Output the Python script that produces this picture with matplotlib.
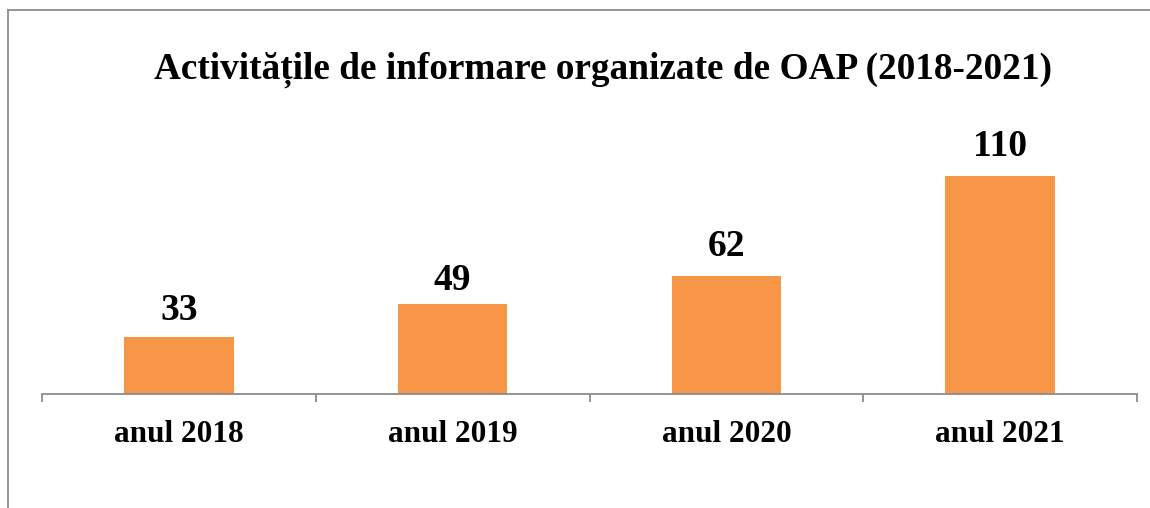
import matplotlib
matplotlib.use("Agg")
import matplotlib.pyplot as plt
from matplotlib.lines import Line2D
from matplotlib.ticker import FixedLocator

categories = ["anul 2018", "anul 2019", "anul 2020", "anul 2021"]
values = [33, 49, 62, 110]
title = "Activitățile de informare organizate de OAP (2018-2021)"

W, H = 1150, 508
fig = plt.figure(figsize=(W / 100, H / 100), dpi=100)
serif = ["Liberation Serif", "DejaVu Serif"]

ax = fig.add_axes([42 / W, (H - 394) / H, 1095 / W, 234 / H])
x = list(range(len(categories)))
bars = ax.bar(x, values, width=0.4, color="#F79646", zorder=2)
ax.set_xlim(-0.5, len(categories) - 0.5)
ax.set_ylim(6, 117.4)

for s in ["top", "right", "left"]:
    ax.spines[s].set_visible(False)
ax.spines["bottom"].set_color("#8C8C8C")
ax.spines["bottom"].set_linewidth(1.3)
ax.set_yticks([])
ax.set_xticks(x)
ax.set_xticklabels(categories, fontfamily=serif, fontweight="bold", fontsize=22.5)
ax.tick_params(axis="x", which="major", length=0, pad=19)
ax.xaxis.set_minor_locator(FixedLocator([i - 0.5 for i in range(len(categories) + 1)]))
ax.tick_params(axis="x", which="minor", length=6, width=1.3, color="#8C8C8C", direction="out")

label_offsets = [7, 4, 9, 8]
for xi, v, off in zip(x, values, label_offsets):
    ax.annotate(str(v), (xi, v), xytext=(0, off), textcoords="offset points",
                ha="center", va="bottom", fontfamily=serif, fontweight="bold",
                fontsize=27, color="black")

fig.text(603 / W, 1 - 79 / H, title, ha="center", va="baseline",
         fontfamily=serif, fontweight="bold", fontsize=26.8, color="black")

# chart frame (top and left edges visible)
fig.add_artist(Line2D([7.5 / W, 1.0], [1 - 10 / H, 1 - 10 / H], transform=fig.transFigure,
                      color="#8C8C8C", linewidth=1.3))
fig.add_artist(Line2D([7.5 / W, 7.5 / W], [0.0, 1 - 10 / H], transform=fig.transFigure,
                      color="#8C8C8C", linewidth=1.3))

fig.savefig("out.png", dpi=100)
